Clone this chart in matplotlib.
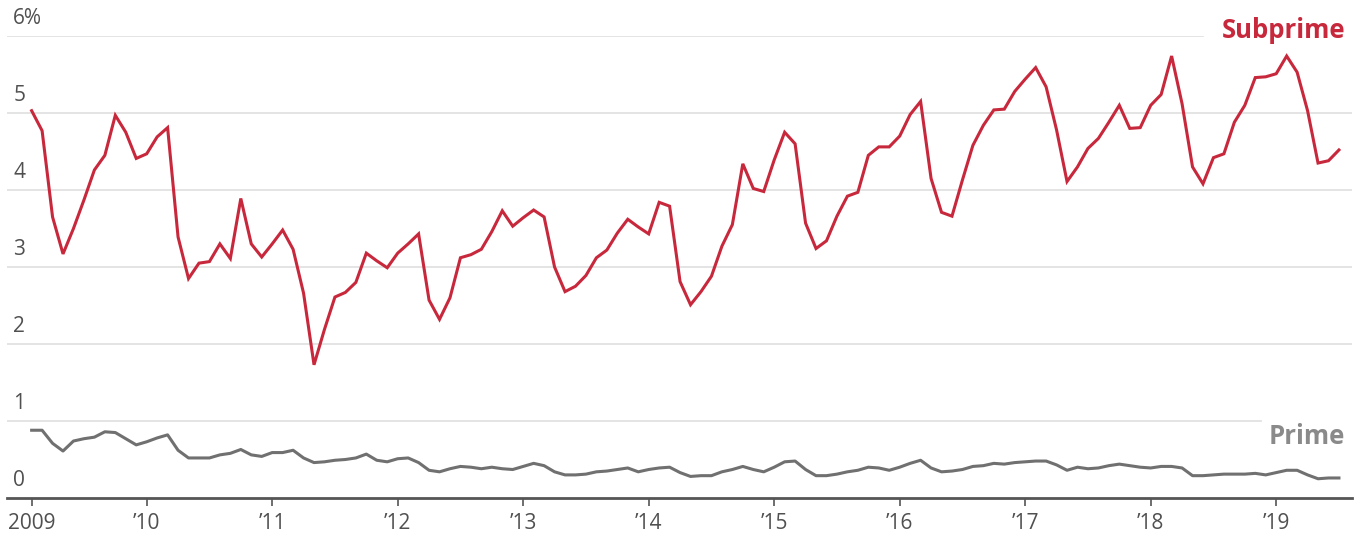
import numpy as np
import pandas as pd
import matplotlib
matplotlib.use("Agg")
import matplotlib.pyplot as plt

# Monthly delinquency rates (%), Feb 2009 - Jul 2019
months = pd.date_range("2009-02-01", periods=126, freq="MS")

subprime = [
    5.03, 4.77, 3.65, 3.17, 3.50, 3.87, 4.26, 4.45, 4.97, 4.75, 4.41, 4.47,
    4.69, 4.81, 3.39, 2.85, 3.05, 3.07, 3.30, 3.11, 3.89, 3.30, 3.13, 3.30,
    3.48, 3.23, 2.66, 1.73, 2.19, 2.61, 2.67, 2.80, 3.18, 3.08, 2.99, 3.18,
    3.30, 3.43, 2.57, 2.32, 2.60, 3.12, 3.16, 3.23, 3.46, 3.73, 3.53, 3.64,
    3.74, 3.65, 3.00, 2.68, 2.75, 2.89, 3.12, 3.22, 3.44, 3.62, 3.52, 3.43,
    3.84, 3.79, 2.81, 2.51, 2.68, 2.88, 3.27, 3.55, 4.34, 4.02, 3.98, 4.39,
    4.75, 4.60, 3.57, 3.24, 3.34, 3.66, 3.92, 3.97, 4.45, 4.56, 4.56, 4.70,
    4.98, 5.15, 4.15, 3.71, 3.66, 4.13, 4.58, 4.84, 5.04, 5.05, 5.28, 5.44,
    5.59, 5.34, 4.78, 4.11, 4.30, 4.54, 4.67, 4.88, 5.10, 4.80, 4.81, 5.10,
    5.24, 5.74, 5.12, 4.30, 4.08, 4.42, 4.47, 4.88, 5.10, 5.46, 5.47, 5.51,
    5.74, 5.53, 5.03, 4.35, 4.38, 4.52,
]

prime = [
    0.88, 0.88, 0.71, 0.61, 0.74, 0.77, 0.79, 0.86, 0.85, 0.77, 0.69, 0.73,
    0.78, 0.82, 0.62, 0.52, 0.52, 0.52, 0.56, 0.58, 0.63, 0.56, 0.54, 0.59,
    0.59, 0.62, 0.52, 0.46, 0.47, 0.49, 0.50, 0.52, 0.57, 0.49, 0.47, 0.51,
    0.52, 0.46, 0.36, 0.34, 0.38, 0.41, 0.40, 0.38, 0.40, 0.38, 0.37, 0.41,
    0.45, 0.42, 0.34, 0.30, 0.30, 0.31, 0.34, 0.35, 0.37, 0.39, 0.34, 0.37,
    0.39, 0.40, 0.33, 0.28, 0.29, 0.29, 0.34, 0.37, 0.41, 0.37, 0.34, 0.40,
    0.47, 0.48, 0.37, 0.29, 0.29, 0.31, 0.34, 0.36, 0.40, 0.39, 0.36, 0.40,
    0.45, 0.49, 0.39, 0.34, 0.35, 0.37, 0.41, 0.42, 0.45, 0.44, 0.46, 0.47,
    0.48, 0.48, 0.43, 0.36, 0.40, 0.38, 0.39, 0.42, 0.44, 0.42, 0.40, 0.39,
    0.41, 0.41, 0.39, 0.29, 0.29, 0.30, 0.31, 0.31, 0.31, 0.32, 0.30, 0.33,
    0.36, 0.36, 0.30, 0.25, 0.26, 0.26,
]

y_ticks = [0, 1, 2, 3, 4, 5, 6]
y_labels = ["0", "1", "2", "3", "4", "5", "6%"]
x_labels = ["2009", "’10", "’11", "’12", "’13", "’14", "’15", "’16", "’17", "’18", "’19"]

RED = "#c8283c"
GREY_LINE = "#707070"
GRID = "#e2e2e2"
TEXT = "#505050"

plt.rcParams["font.family"] = ["Open Sans", "DejaVu Sans"]

# decimal years for the x axis
x = months.year + (months.month - 1) / 12

fig = plt.figure(figsize=(13.58, 5.38), dpi=100)
ax = fig.add_axes([7 / 1358, 40 / 538, 1345 / 1358, 462 / 538])

ax.set_xlim(2008.887, 2019.604)
ax.set_ylim(0, 6)

# gridlines (top and "1" lines stop short of the series labels)
for v in y_ticks[1:]:
    xmax = 1.0
    if v == 6:
        xmax = 0.889
    elif v == 1:
        xmax = 0.932
    ax.axhline(v, xmin=0, xmax=xmax, color=GRID, lw=1.3, zorder=1)

ax.plot(x, subprime, color=RED, lw=2.2, zorder=3, solid_joinstyle="miter")
ax.plot(x, prime, color=GREY_LINE, lw=2.2, zorder=3)

for v, lab in zip(y_ticks, y_labels):
    ax.annotate(lab, xy=(0, v), xycoords=ax.get_yaxis_transform(),
                xytext=(4.5, 5), textcoords="offset points",
                ha="left", va="bottom", fontsize=15, color=TEXT)

ax.text(1345 / 1358, 1 - 30 / 538, "Subprime", transform=fig.transFigure, ha="right",
        va="center", fontsize=18.5, fontweight="bold", color=RED)
ax.text(1345 / 1358, 1 - 437 / 538, "Prime", transform=fig.transFigure, ha="right",
        va="center", fontsize=18.5, fontweight="bold", color="#8a8a8a")

tick_pos = [x[0]] + list(range(2010, 2020))
ax.set_xticks(tick_pos)
ax.set_xticklabels(x_labels, fontsize=15, color=TEXT)
ax.set_yticks([])
ax.tick_params(axis="x", length=6, width=1.2, color="#555555", pad=5)

for s in ["top", "right", "left"]:
    ax.spines[s].set_visible(False)
ax.spines["bottom"].set_color("#555555")
ax.spines["bottom"].set_linewidth(2)
ax.spines["bottom"].set_zorder(4)

fig.savefig("out.png", dpi=100)
